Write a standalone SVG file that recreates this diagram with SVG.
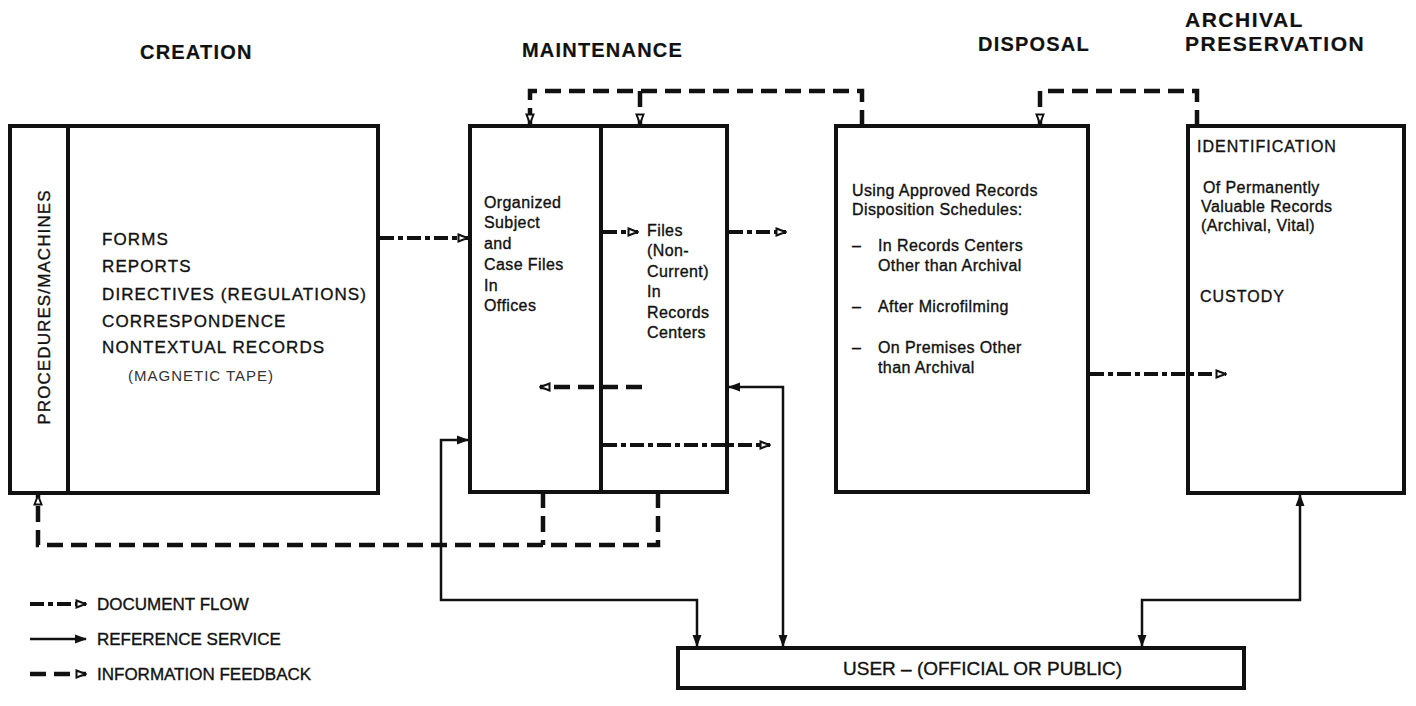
<svg xmlns="http://www.w3.org/2000/svg" width="1416" height="706" viewBox="0 0 1416 706">
<style>
.box{fill:none;stroke:#111;stroke-width:4}
.t{font-family:"Liberation Sans",Arial,sans-serif;fill:#111;stroke:#111;stroke-width:0.35}
.title{font-size:20px;font-weight:bold;letter-spacing:1.2px;stroke-width:0.2}
.body{font-size:16px;letter-spacing:0.4px}
.list{font-size:17px;letter-spacing:1.1px}
.doc{fill:none;stroke:#111;stroke-width:4;stroke-dasharray:14 4 5 4}
.ref{fill:none;stroke:#111;stroke-width:2.5}
.fb{fill:none;stroke:#111;stroke-width:4.5;stroke-dasharray:16 8}
</style>
<defs>
<marker id="ho" viewBox="0 0 12 10" refX="11" refY="5" markerWidth="12" markerHeight="10" markerUnits="userSpaceOnUse" orient="auto"><path d="M1.5,1.5 L10.5,5 L1.5,8.5 Z" fill="#fff" stroke="#111" stroke-width="2"/></marker>
<marker id="hs" viewBox="0 0 12 10" refX="11" refY="5" markerWidth="12" markerHeight="10" markerUnits="userSpaceOnUse" orient="auto"><path d="M0,0.5 L12,5 L0,9.5 Z" fill="#111"/></marker>
<marker id="hss" viewBox="0 0 12 10" refX="11" refY="5" markerWidth="12" markerHeight="10" markerUnits="userSpaceOnUse" orient="auto-start-reverse"><path d="M0,0.5 L12,5 L0,9.5 Z" fill="#111"/></marker>
</defs>

<g id="titles" class="t title">
<text x="140" y="59">CREATION</text>
<text x="522" y="57">MAINTENANCE</text>
<text x="978" y="51">DISPOSAL</text>
<text x="1185" y="27" style="font-size:21px;letter-spacing:1.5px">ARCHIVAL</text>
<text x="1185" y="51" style="font-size:21px;letter-spacing:1.5px">PRESERVATION</text>
</g>

<g id="creation">
<rect class="box" x="10" y="126" width="368" height="367"/>
<line class="box" x1="68" y1="126" x2="68" y2="493"/>
<text class="t list" transform="translate(50,307) rotate(-90)" text-anchor="middle">PROCEDURES/MACHINES</text>
<text class="t list" x="102" y="245">FORMS</text>
<text class="t list" x="102" y="272">REPORTS</text>
<text class="t list" x="102" y="300">DIRECTIVES (REGULATIONS)</text>
<text class="t list" x="102" y="327">CORRESPONDENCE</text>
<text class="t list" x="102" y="353">NONTEXTUAL RECORDS</text>
<text class="t" x="128" y="381" style="font-size:15px;letter-spacing:1px;fill:#333;stroke:none">(MAGNETIC TAPE)</text>
</g>

<g id="maintenance">
<rect class="box" x="470" y="126" width="257" height="366"/>
<line class="box" x1="601" y1="126" x2="601" y2="492"/>
<g class="t body">
<text x="484" y="208">Organized</text>
<text x="484" y="228">Subject</text>
<text x="484" y="249">and</text>
<text x="484" y="270">Case Files</text>
<text x="484" y="291">In</text>
<text x="484" y="311">Offices</text>
<text x="647" y="236">Files</text>
<text x="647" y="256">(Non-</text>
<text x="647" y="277">Current)</text>
<text x="647" y="297">In</text>
<text x="647" y="318">Records</text>
<text x="647" y="338">Centers</text>
</g>
</g>

<g id="disposal">
<rect class="box" x="836" y="126" width="252" height="366"/>
<g class="t body">
<text x="852" y="196">Using Approved Records</text>
<text x="852" y="215">Disposition Schedules:</text>
<text x="852" y="251">–</text><text x="878" y="251">In Records Centers</text>
<text x="878" y="271">Other than Archival</text>
<text x="852" y="312">–</text><text x="878" y="312">After Microfilming</text>
<text x="852" y="353">–</text><text x="878" y="353">On Premises Other</text>
<text x="878" y="373">than Archival</text>
</g>
</g>

<g id="archival">
<rect class="box" x="1188" y="126" width="216" height="367"/>
<g class="t body">
<text x="1197" y="152" style="letter-spacing:1px">IDENTIFICATION</text>
<text x="1203" y="193">Of Permanently</text>
<text x="1201" y="212">Valuable Records</text>
<text x="1201" y="231">(Archival, Vital)</text>
<text x="1200" y="302" style="letter-spacing:1px">CUSTODY</text>
</g>
</g>

<g id="user">
<rect class="box" x="678" y="648" width="566" height="40"/>
<text class="t" x="843" y="675" style="font-size:19px">USER – (OFFICIAL OR PUBLIC)</text>
</g>

<g id="connectors">
<line class="doc" x1="380" y1="238" x2="468" y2="238" marker-end="url(#ho)"/>
<line class="doc" x1="603" y1="232" x2="638" y2="232" marker-end="url(#ho)"/>
<line class="doc" x1="729" y1="232" x2="786" y2="232" marker-end="url(#ho)"/>
<line class="doc" x1="603" y1="445" x2="770" y2="445" marker-end="url(#ho)"/>
<line class="doc" x1="1090" y1="374" x2="1226" y2="374" marker-end="url(#ho)"/>
<path class="fb" d="M862,126 V91 H530 V124" marker-end="url(#ho)"/>
<path class="fb" d="M640,91 V124" marker-end="url(#ho)"/>
<path class="fb" d="M1197,126 V91 H1040 V124" marker-end="url(#ho)"/>
<line class="fb" x1="642" y1="387" x2="540" y2="387" marker-end="url(#ho)"/>
<path class="fb" d="M658,492 V545 H38 V495" marker-end="url(#ho)"/>
<path class="fb" d="M543,492 V545"/>
<path class="ref" d="M697,646 V600 H441 V440 H468" marker-start="url(#hss)" marker-end="url(#hs)"/>
<path class="ref" d="M783,646 V387 H729" marker-start="url(#hss)" marker-end="url(#hs)"/>
<path class="ref" d="M1142,646 V600 H1300 V495" marker-start="url(#hss)" marker-end="url(#hs)"/>
</g>

<g id="legend">
<line class="doc" x1="30" y1="604" x2="86" y2="604" marker-end="url(#ho)"/>
<text class="t" x="97" y="610" style="font-size:17px">DOCUMENT FLOW</text>
<line class="ref" x1="30" y1="639" x2="86" y2="639" marker-end="url(#hs)"/>
<text class="t" x="97" y="645" style="font-size:17px">REFERENCE SERVICE</text>
<line class="fb" x1="30" y1="674" x2="86" y2="674" marker-end="url(#ho)"/>
<text class="t" x="97" y="680" style="font-size:17px">INFORMATION FEEDBACK</text>
</g>
</svg>
